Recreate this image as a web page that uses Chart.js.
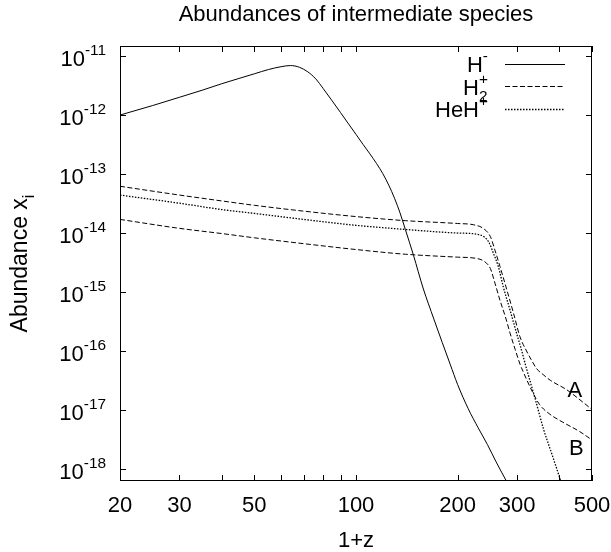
<!DOCTYPE html>
<html>
<head>
<meta charset="utf-8">
<title>Abundances of intermediate species</title>
<script src="https://cdn.jsdelivr.net/npm/chart.js@4/dist/chart.umd.min.js"></script>
<style>
  html, body { margin: 0; padding: 0; background: #fff; }
  canvas { display: block; }
</style>
</head>
<body>
<canvas id="chart" width="611" height="552"></canvas>
<script>
// Datos (1+z, abundancia)
const hMinusZ = [20, 25, 30, 35, 40, 45, 50, 55, 60, 64, 68, 72, 76, 80, 85, 90, 95, 100, 105, 110,
    115, 120, 125, 130, 135, 140, 148, 158, 170, 180, 190, 200, 215, 230, 245, 260, 280, 290];
const hMinusX = [1.0e-12, 1.45e-12, 2.0e-12, 2.63e-12, 3.39e-12, 4.17e-12, 5.0e-12, 5.9e-12, 6.6e-12, 6.9e-12,
    6.45e-12, 5.4e-12, 4.1e-12, 2.8e-12, 1.74e-12, 1.1e-12, 7.1e-13, 4.7e-13, 3.16e-13, 2.19e-13,
    1.51e-13, 1.02e-13, 6.5e-14, 3.9e-14, 2.2e-14, 1.15e-14, 4.2e-15, 1.17e-15, 3.5e-16, 1.4e-16,
    6.0e-17, 2.7e-17, 1.05e-17, 5.0e-18, 2.6e-18, 1.32e-18, 6.0e-19, 4.2e-19];

// H2+ curva A (superior)
const h2pAZ = [20, 30, 40, 50, 70, 100, 140, 200, 223, 238, 250, 258, 267, 280, 293, 306, 320, 330,
    343, 360, 376, 421, 461, 500];
const h2pAX = [6.2e-14, 4.4e-14, 3.5e-14, 2.95e-14, 2.35e-14, 1.9e-14, 1.62e-14, 1.45e-14, 1.38e-14,
    1.2e-14, 8.7e-15, 5.1e-15, 2.7e-15, 1.07e-15, 4.3e-16, 1.74e-16, 1.0e-16, 7.2e-17,
    5.0e-17, 3.9e-17, 3.2e-17, 2.2e-17, 1.48e-17, 1.02e-17];

// H2+ curva B (inferior)
const h2pBZ = [20, 30, 40, 50, 70, 100, 140, 200, 228, 241, 250, 258, 267, 277, 286, 296, 306, 313,
    320, 335, 350, 375, 410, 460, 500];
const h2pBX = [1.7e-14, 1.2e-14, 9.8e-15, 8.3e-15, 6.6e-15, 5.25e-15, 4.37e-15, 3.9e-15, 3.7e-15,
    3.24e-15, 2.5e-15, 1.41e-15, 7.2e-16, 3.8e-16, 2.0e-16, 1.07e-16, 6.0e-17, 4.4e-17,
    3.3e-17, 1.9e-17, 1.23e-17, 8.5e-18, 6.2e-18, 4.3e-18, 3.1e-18];

const hehpZ = [20, 30, 40, 50, 70, 100, 140, 200, 233, 247, 255, 264, 273, 286, 299, 308, 320, 339,
    359, 382, 404, 412];
const hehpX = [4.4e-14, 3.2e-14, 2.5e-14, 2.15e-14, 1.7e-14, 1.35e-14, 1.15e-14, 1.0e-14, 9.3e-15,
    7.1e-15, 4.6e-15, 2.7e-15, 1.23e-15, 4.9e-16, 2.0e-16, 1.12e-16, 5.0e-17, 1.58e-17,
    4.8e-18, 1.66e-18, 6.3e-19, 4.5e-19];

// Ejes
const xTickValues = [20, 30, 40, 50, 60, 70, 80, 90, 100, 200, 300, 400, 500];
const xLabelValues = [20, 30, 50, 100, 200, 300, 500];
const yTickValues = [1e-11, 1e-12, 1e-13, 1e-14, 1e-15, 1e-16, 1e-17, 1e-18];
const yTickExps = ['-11', '-12', '-13', '-14', '-15', '-16', '-17', '-18'];

const FONT = '"Liberation Sans", Arial, sans-serif';
const SIZE = 22;

function toPoints(zs, xs) {
    return zs.map((z, i) => ({ x: z, y: xs[i] }));
}

// Texto con superíndices / subíndices estilo gnuplot
function partWidth(ctx, p, size) {
    if (p.stack) {
        ctx.font = `${size * 0.7}px ${FONT}`;
        return Math.max(ctx.measureText(p.sub).width, ctx.measureText(p.sup).width);
    }
    ctx.font = `${p.pos ? size * 0.7 : size}px ${FONT}`;
    return ctx.measureText(p.text).width;
}

function drawRich(ctx, parts, x, y, size, align) {
    const total = parts.reduce((s, p) => s + partWidth(ctx, p, size), 0);
    let cx = align === 'right' ? x - total : align === 'center' ? x - total / 2 : x;
    ctx.textAlign = 'left';
    ctx.textBaseline = 'alphabetic';
    for (const p of parts) {
        const w = partWidth(ctx, p, size);
        if (p.stack) {
            ctx.font = `${size * 0.7}px ${FONT}`;
            ctx.fillText(p.sub, cx, y + size * 0.3);
            ctx.fillText(p.sup, cx, y - size * 0.5);
        } else {
            ctx.font = `${p.pos ? size * 0.7 : size}px ${FONT}`;
            const dy = p.pos === 'sup' ? -size * 0.5 : p.pos === 'sub' ? size * 0.3 : 0;
            ctx.fillText(p.text, cx, y + dy);
        }
        cx += w;
    }
}

const decorations = {
    id: 'decorations',
    afterDraw(chart) {
        const { ctx, chartArea: a, scales: { x, y } } = chart;
        ctx.save();
        ctx.strokeStyle = '#000';
        ctx.fillStyle = '#000';
        ctx.lineWidth = 1;

        // marco
        ctx.strokeRect(a.left + 0.5, a.top + 0.5, a.right - a.left - 1, a.bottom - a.top - 1);

        // marcas hacia dentro
        const tl = 6;
        ctx.beginPath();
        for (const v of xTickValues) {
            const px = Math.round(x.getPixelForValue(v)) + 0.5;
            ctx.moveTo(px, a.bottom); ctx.lineTo(px, a.bottom - tl);
            ctx.moveTo(px, a.top); ctx.lineTo(px, a.top + tl);
        }
        for (const v of yTickValues) {
            const py = Math.round(y.getPixelForValue(v)) + 0.5;
            ctx.moveTo(a.left, py); ctx.lineTo(a.left + tl, py);
            ctx.moveTo(a.right, py); ctx.lineTo(a.right - tl, py);
        }
        ctx.stroke();

        // etiquetas eje x
        ctx.font = `${SIZE}px ${FONT}`;
        ctx.textAlign = 'center';
        ctx.textBaseline = 'alphabetic';
        for (const v of xLabelValues) {
            ctx.fillText(String(v), x.getPixelForValue(v), a.bottom + 31);
        }
        // etiquetas eje y
        yTickValues.forEach((v, i) => {
            const py = y.getPixelForValue(v);
            drawRich(ctx, [{ text: '10' }, { text: yTickExps[i], pos: 'sup' }], a.left - 14, py + 10, SIZE, 'right');
        });

        // títulos
        ctx.font = `${SIZE}px ${FONT}`;
        ctx.textAlign = 'center';
        ctx.fillText('Abundances of intermediate species', (a.left + a.right) / 2, 21);
        ctx.fillText('1+z', (a.left + a.right) / 2, a.bottom + 66);

        ctx.save();
        ctx.translate(27, (a.top + a.bottom) / 2);
        ctx.rotate(-Math.PI / 2);
        drawRich(ctx, [{ text: 'Abundance x' }, { text: 'i', pos: 'sub' }], 0, 0, 23, 'center');
        ctx.restore();

        // leyenda
        const entries = [
            [[{ text: 'H' }, { text: '-', pos: 'sup' }], 0],
            [[{ text: 'H' }, { stack: true, sub: '2', sup: '+' }], 1],
            [[{ text: 'HeH' }, { text: '+', pos: 'sup' }], 3]
        ];
        entries.forEach(([parts, di], k) => {
            const base = a.top + 26 + k * 22.5;
            drawRich(ctx, parts, a.right - 104, base, SIZE, 'right');
            const ds = chart.data.datasets[di];
            ctx.save();
            ctx.lineWidth = ds.borderWidth;
            ctx.setLineDash(ds.borderDash || []);
            ctx.beginPath();
            ctx.moveTo(a.right - 87, Math.round(base - 8.5) + 0.5);
            ctx.lineTo(a.right - 27, Math.round(base - 8.5) + 0.5);
            ctx.stroke();
            ctx.restore();
        });

        // rótulos A y B
        ctx.font = `${SIZE}px ${FONT}`;
        ctx.textAlign = 'center';
        ctx.fillText('A', x.getPixelForValue(445), y.getPixelForValue(1.66e-17));
        ctx.fillText('B', x.getPixelForValue(449), y.getPixelForValue(1.74e-18));
        ctx.restore();
    }
};

const lineStyle = {
    showLine: true,
    borderColor: '#000',
    backgroundColor: '#000',
    borderWidth: 1,
    pointRadius: 0,
    fill: false,
    cubicInterpolationMode: 'monotone'
};

new Chart(document.getElementById('chart'), {
    type: 'scatter',
    data: {
        datasets: [
            { ...lineStyle, label: 'H-', data: toPoints(hMinusZ, hMinusX) },
            { ...lineStyle, label: 'H2+', data: toPoints(h2pAZ, h2pAX), borderDash: [5, 2.5] },
            { ...lineStyle, label: 'H2+ (B)', data: toPoints(h2pBZ, h2pBX), borderDash: [5, 2.5] },
            { ...lineStyle, label: 'HeH+', data: toPoints(hehpZ, hehpX), borderDash: [1.5, 1.5], borderWidth: 1.3 }
        ]
    },
    options: {
        responsive: false,
        animation: false,
        layout: { padding: { left: 120, right: 19, top: 46, bottom: 71 } },
        plugins: {
            legend: { display: false },
            title: { display: false },
            tooltip: { enabled: false }
        },
        scales: {
            x: { type: 'logarithmic', min: 20, max: 500, display: false },
            y: { type: 'logarithmic', min: 6.26e-19, max: 1.48e-11, display: false }
        }
    },
    plugins: [decorations]
});
</script>
</body>
</html>
